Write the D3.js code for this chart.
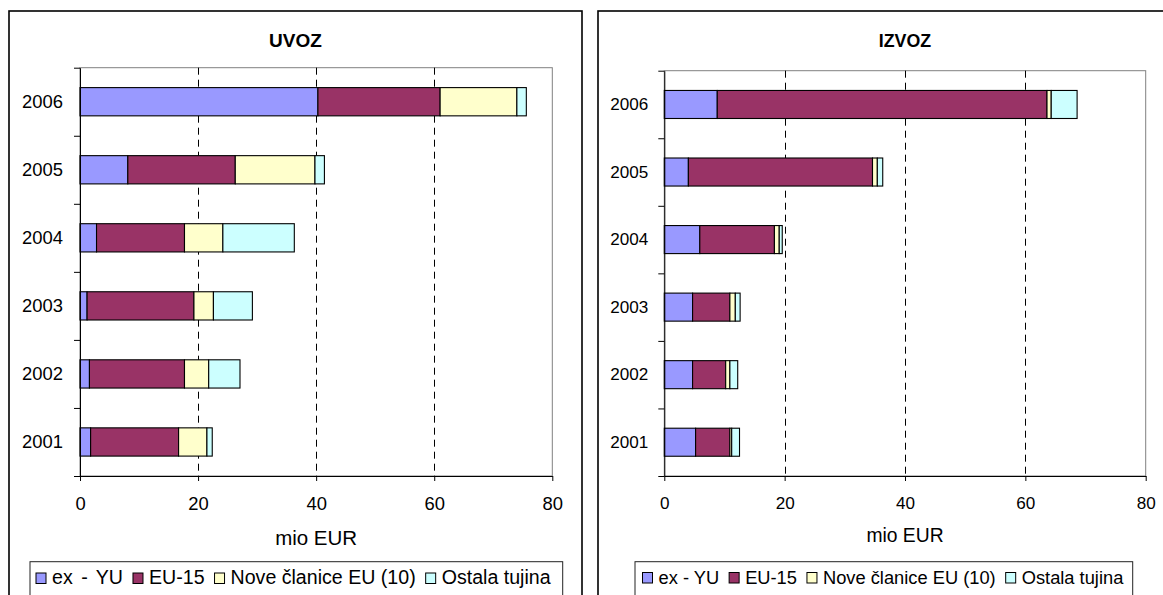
<!DOCTYPE html>
<html>
<head>
<meta charset="utf-8">
<script src="https://cdn.jsdelivr.net/npm/d3@7/dist/d3.min.js"></script>
<style>
  html, body { margin: 0; padding: 0; background: #fff; }
  svg { display: block; font-family: "Liberation Sans", Arial, sans-serif; }
</style>
</head>
<body>
<svg id="chart" width="1163" height="595"></svg>
<script>
// ---- data ----
const years = ["2001", "2002", "2003", "2004", "2005", "2006"];
const seriesNames = ["ex - YU", "EU-15", "Nove članice EU (10)", "Ostala tujina"];
const seriesColors = ["#9999FF", "#993366", "#FFFFCC", "#CCFFFF"];

const uvozExYU   = [1.8, 1.6, 1.2, 2.8, 8.1, 40.3];
const uvozEU15   = [14.9, 16.1, 18.1, 14.9, 18.2, 20.7];
const uvozNove   = [4.8, 4.1, 3.3, 6.5, 13.5, 13.0];
const uvozOstala = [0.9, 5.3, 6.6, 12.1, 1.6, 1.6];

const izvozExYU   = [5.2, 4.7, 4.7, 5.9, 4.0, 8.8];
const izvozEU15   = [5.7, 5.5, 6.2, 12.4, 30.6, 54.8];
const izvozNove   = [0.3, 0.7, 0.9, 0.8, 0.8, 0.7];
const izvozOstala = [1.3, 1.3, 0.8, 0.5, 0.9, 4.3];

const xTicks = [0, 20, 40, 60, 80];
const gridTicks = [20, 40, 60];
const xAxisTitle = "mio EUR";
const titles = ["UVOZ", "IZVOZ"];

function rows(a, b, c, d) {
  return years.map((y, i) => ({ year: y, s0: a[i], s1: b[i], s2: c[i], s3: d[i] }));
}

const svg = d3.select("#chart");

function drawChart(cfg) {
  const g = svg.append("g");
  // outer frame
  g.append("rect")
    .attr("x", cfg.frame[0]).attr("y", cfg.frame[1])
    .attr("width", cfg.frame[2]).attr("height", cfg.frame[3])
    .attr("fill", "#fff").attr("stroke", "#000").attr("stroke-width", 1.6);

  const x = d3.scaleLinear().domain([0, 80]).range([cfg.left, cfg.right]);
  const y = d3.scaleBand().domain(years.slice().reverse())
    .range([cfg.top, cfg.bottom]).paddingInner(0.585).paddingOuter(0.2925);

  // plot area border (gray)
  g.append("rect")
    .attr("x", cfg.left).attr("y", cfg.top)
    .attr("width", cfg.right - cfg.left).attr("height", cfg.bottom - cfg.top)
    .attr("fill", "none").attr("stroke", "#808080").attr("stroke-width", 1);

  // dashed gridlines
  g.selectAll("line.grid").data(gridTicks).enter().append("line")
    .attr("class", "grid")
    .attr("x1", d => Math.round(x(d)) + 0.5).attr("x2", d => Math.round(x(d)) + 0.5)
    .attr("y1", cfg.top).attr("y2", cfg.bottom)
    .attr("stroke", "#000").attr("stroke-width", 1).attr("stroke-dasharray", "7,5");

  // stacked bars
  const stack = d3.stack().keys(["s0", "s1", "s2", "s3"]);
  const series = stack(cfg.data);
  g.selectAll("g.series").data(series).enter().append("g")
    .attr("fill", (d, i) => seriesColors[i])
    .selectAll("rect").data(d => d).enter().append("rect")
    .attr("x", d => x(d[0]))
    .attr("y", d => y(d.data.year))
    .attr("width", d => x(d[1]) - x(d[0]))
    .attr("height", y.bandwidth())
    .attr("stroke", "#000").attr("stroke-width", 1.1);

  // x axis
  const xAxis = g.append("g")
    .attr("transform", `translate(0,${cfg.bottom})`)
    .call(d3.axisBottom(x).tickValues(xTicks).tickSize(5).tickSizeOuter(0).tickPadding(cfg.xPad));
  xAxis.selectAll("text").style("font-size", cfg.tickFont + "px").attr("fill", "#000");
  xAxis.selectAll("line").attr("stroke", "#000");
  xAxis.select(".domain").attr("stroke", "#000");

  // y boundary ticks
  const yb = d3.scaleLinear().domain([0, years.length]).range([cfg.bottom, cfg.top]);
  const yTickAxis = g.append("g")
    .attr("transform", `translate(${cfg.left},0)`)
    .call(d3.axisLeft(yb).ticks(years.length).tickSize(6).tickSizeOuter(0).tickFormat(""));
  yTickAxis.selectAll("line").attr("stroke", "#000");
  yTickAxis.select(".domain").attr("stroke", "#000");

  // y labels
  const yLab = g.append("g")
    .attr("transform", `translate(${cfg.left},0)`)
    .call(d3.axisLeft(y).tickSize(0).tickPadding(cfg.yPad));
  yLab.select(".domain").remove();
  yLab.selectAll("text").style("font-size", cfg.tickFont + "px").attr("fill", "#000");

  // title
  g.append("text")
    .attr("x", cfg.frame[0] + cfg.frame[2] / 2).attr("y", 46.5)
    .attr("text-anchor", "middle")
    .style("font-size", cfg.titleFont + "px").style("font-weight", "bold")
    .text(cfg.title);

  // axis title
  g.append("text")
    .attr("x", (cfg.left + cfg.right) / 2).attr("y", cfg.axisTitleY)
    .attr("text-anchor", "middle")
    .style("font-size", cfg.axisTitleFont + "px")
    .text(xAxisTitle);

  // legend
  const lg = g.append("g");
  lg.append("rect")
    .attr("x", cfg.legend[0]).attr("y", cfg.legend[1])
    .attr("width", cfg.legend[2]).attr("height", 60)
    .attr("fill", "#fff").attr("stroke", "#222").attr("stroke-width", 1);
  let cx = cfg.legend[0] + cfg.legendInset;
  seriesNames.forEach((name, i) => {
    lg.append("rect")
      .attr("x", cx).attr("y", cfg.swatchY)
      .attr("width", 10).attr("height", 10.5)
      .attr("fill", seriesColors[i]).attr("stroke", "#000").attr("stroke-width", 1);
    const t = lg.append("text")
      .attr("x", cx + 16).attr("y", cfg.legendBase)
      .style("font-size", cfg.legendFont + "px")
      .style("word-spacing", i === 0 ? cfg.firstWordSpacing + "px" : "0px")
      .text(name);
    cx = cx + 16 + t.node().getComputedTextLength() + 10;
  });
}

drawChart({
  frame: [9, 11, 573, 620],
  left: 80, right: 552.3, top: 67.7, bottom: 476,
  data: rows(uvozExYU, uvozEU15, uvozNove, uvozOstala),
  title: titles[0], titleFont: 19,
  tickFont: 18.4, xPad: 15.5, yPad: 17,
  axisTitleFont: 20.5, axisTitleY: 545,
  legend: [30, 561.7, 532.7], legendInset: 6, swatchY: 573, legendBase: 584,
  legendFont: 19.6, firstWordSpacing: 3
});

drawChart({
  frame: [598, 11, 614, 620],
  left: 664.3, right: 1145.7, top: 70.7, bottom: 476,
  data: rows(izvozExYU, izvozEU15, izvozNove, izvozOstala),
  title: titles[1], titleFont: 17.8,
  tickFont: 17.1, xPad: 15.5, yPad: 16,
  axisTitleFont: 19.3, axisTitleY: 541.7,
  legend: [635, 561.7, 497.7], legendInset: 7.5, swatchY: 572.5, legendBase: 583.5,
  legendFont: 18.3, firstWordSpacing: 0
});
</script>
</body>
</html>
